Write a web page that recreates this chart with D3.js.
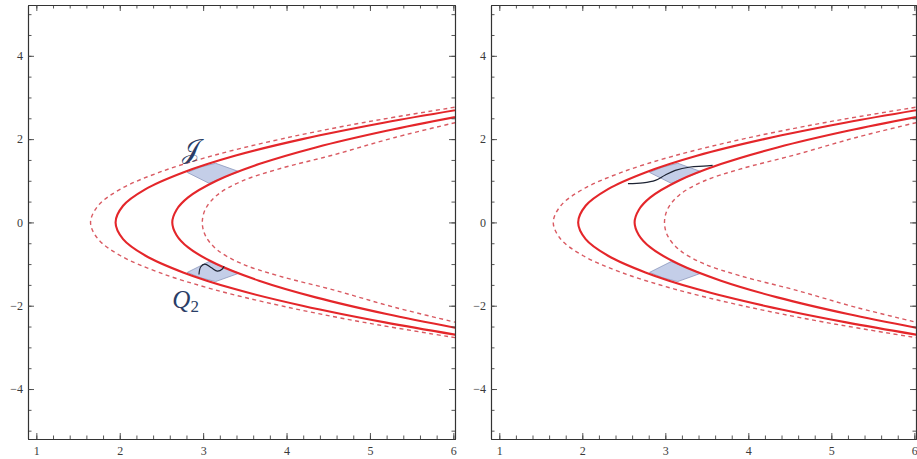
<!DOCTYPE html>
<html>
<head>
<meta charset="utf-8">
<script src="https://cdn.jsdelivr.net/npm/d3@7"></script>
<style>
  body { margin: 0; background: #fff; }
  svg { display: block; }
</style>
</head>
<body>
<script>
// values, (x, y) pairs in plot units
let xMajor = [1, 2, 3, 4, 5, 6]
let yMajor = [-4, -2, 0, 2, 4]
let xMinor = d3.range(1, 6.01, 0.2)
let yMinor = d3.range(-5, 5.01, 0.5)

let outerSolid = [[6.34, 2.8], [5.18, 2.4], [4.19, 2.0], [3.38, 1.6], [2.76, 1.2], [2.31, 0.8], [2.04, 0.4], [1.95, 0],
                  [2.04, -0.4], [2.31, -0.8], [2.76, -1.2], [3.38, -1.6], [4.19, -2.0], [5.18, -2.4], [6.34, -2.8]]
let innerSolid = [[6.21, 2.6], [5.20, 2.2], [4.35, 1.8], [3.67, 1.4], [3.16, 1.0], [2.82, 0.6], [2.68, 0.3], [2.63, 0],
                  [2.68, -0.3], [2.82, -0.6], [3.16, -1.0], [3.67, -1.4], [4.35, -1.8], [5.20, -2.2], [6.21, -2.6]]
let outerDashed = [[6.28, 2.85], [4.93, 2.4], [3.93, 2.0], [3.11, 1.6], [2.47, 1.2], [2.01, 0.8], [1.74, 0.4], [1.65, 0],
                   [1.74, -0.4], [2.01, -0.8], [2.47, -1.2], [3.11, -1.6], [3.93, -2.0], [4.93, -2.4], [6.28, -2.85]]
let innerDashed = [[6.2, 2.48], [5.3, 2.04], [4.56, 1.62], [3.9, 1.28], [3.45, 0.98], [3.17, 0.66], [3.03, 0.33], [2.99, 0],
                   [3.03, -0.33], [3.17, -0.66], [3.45, -0.98], [3.9, -1.28], [4.56, -1.62], [5.3, -2.04], [6.2, -2.48]]

// the shaded patches between the two solid curves
let upperPatch = [[2.81, 1.20], [2.97, 1.33], [3.15, 1.42], [3.43, 1.22], [3.25, 1.08], [3.07, 0.94]]
let lowerPatch = [[2.81, -1.20], [3.07, -0.94], [3.25, -1.08], [3.43, -1.22], [3.15, -1.42], [2.97, -1.33]]

// black squiggles
let leftWiggle = [[2.95, -1.25], [2.97, -1.07], [3.02, -1.0], [3.10, -1.09], [3.17, -1.17], [3.23, -1.12], [3.25, -1.05]]
let rightWiggle = [[2.55, 0.93], [2.73, 0.95], [2.88, 1.01], [3.00, 1.14], [3.12, 1.25], [3.30, 1.33], [3.46, 1.35], [3.57, 1.37]]

// label anchors
let jLabel = [2.86, 1.76]
let qLabel = [2.79, -1.86]

let width = 917
let height = 459
let xDomain = [0.9, 6.02]
let yDomain = [-5.2, 5.22]
let plotTop = 5
let plotBottom = 439

let svg = d3.select("body").append("svg")
    .attr("width", width)
    .attr("height", height)

function drawPanel(id, left, right, extras){
    let x = d3.scaleLinear().domain(xDomain).range([left, right])
    let y = d3.scaleLinear().domain(yDomain).range([plotBottom, plotTop])
    let g = svg.append("g")

    g.append("clipPath").attr("id", "clip" + id)
        .append("rect")
        .attr("x", left).attr("y", plotTop)
        .attr("width", right - left).attr("height", plotBottom - plotTop)

    let line = d3.line()
        .x(d => x(d[0]))
        .y(d => y(d[1]))
        .curve(d3.curveCatmullRom)

    let plot = g.append("g").attr("clip-path", `url(#clip${id})`)

    // patches first so the red curves sit on top
    plot.selectAll("path.patch")
        .data([upperPatch, lowerPatch])
        .enter()
        .append("path")
        .attr("class", "patch")
        .attr("d", d3.line().x(d => x(d[0])).y(d => y(d[1])).curve(d3.curveLinearClosed))
        .attr("fill", "#c4cee8")
        .attr("stroke", "#8c98bd")
        .attr("stroke-width", 0.8)
        .attr("stroke-linejoin", "round")

    plot.selectAll("path.dashed")
        .data([outerDashed, innerDashed])
        .enter()
        .append("path")
        .attr("class", "dashed")
        .attr("d", line)
        .attr("fill", "none")
        .attr("stroke", "#d95a62")
        .attr("stroke-width", 1.4)
        .style("stroke-dasharray", ("4, 3.5"))

    plot.selectAll("path.solid")
        .data([outerSolid, innerSolid])
        .enter()
        .append("path")
        .attr("class", "solid")
        .attr("d", line)
        .attr("fill", "none")
        .attr("stroke", "#e4262a")
        .attr("stroke-width", 2.1)

    extras(plot, x, y, line)

    // frame with inward ticks on all four sides
    let frame = g.append("g").attr("class", "frame")
    frame.append("g").attr("transform", `translate(0,${plotBottom})`)
        .call(d3.axisBottom(x).tickValues(xMinor).tickSize(-3.5).tickSizeOuter(0).tickFormat(""))
    frame.append("g").attr("transform", `translate(0,${plotBottom})`)
        .call(d3.axisBottom(x).tickValues(xMajor).tickSize(-6).tickSizeOuter(0).tickPadding(7).tickFormat(d3.format("d")))
    frame.append("g").attr("transform", `translate(0,${plotTop})`)
        .call(d3.axisTop(x).tickValues(xMinor).tickSize(-3.5).tickSizeOuter(0).tickFormat(""))
    frame.append("g").attr("transform", `translate(0,${plotTop})`)
        .call(d3.axisTop(x).tickValues(xMajor).tickSize(-6).tickSizeOuter(0).tickFormat(""))
    frame.append("g").attr("transform", `translate(${left},0)`)
        .call(d3.axisLeft(y).tickValues(yMinor).tickSize(-3.5).tickSizeOuter(0).tickFormat(""))
    frame.append("g").attr("transform", `translate(${left},0)`)
        .call(d3.axisLeft(y).tickValues(yMajor).tickSize(-6).tickSizeOuter(0).tickPadding(5).tickFormat(d3.format("d")))
    frame.append("g").attr("transform", `translate(${right},0)`)
        .call(d3.axisRight(y).tickValues(yMinor).tickSize(-3.5).tickSizeOuter(0).tickFormat(""))
    frame.append("g").attr("transform", `translate(${right},0)`)
        .call(d3.axisRight(y).tickValues(yMajor).tickSize(-6).tickSizeOuter(0).tickFormat(""))

    frame.selectAll("path.domain").attr("stroke", "#333").attr("stroke-width", 1.1)
    frame.selectAll(".tick line").attr("stroke", "#444").attr("stroke-width", 0.9)
    frame.selectAll(".tick text")
        .attr("fill", "#3a3a3a")
        .style("font-family", "'Liberation Serif', 'DejaVu Serif', serif")
        .style("font-size", "12px")
}

// left panel: labels and the small tilde inside the lower patch
drawPanel("L", 28, 455, (plot, x, y, line) => {
    plot.append("path")
        .attr("d", line(leftWiggle))
        .attr("fill", "none")
        .attr("stroke", "#1d2333")
        .attr("stroke-width", 1.2)

    svg.append("text")
        .attr("x", x(jLabel[0]))
        .attr("y", y(jLabel[1]))
        .attr("text-anchor", "middle")
        .attr("dominant-baseline", "central")
        .style("font-family", "'DejaVu Serif', 'Liberation Serif', serif")
        .style("font-size", "26px")
        .attr("fill", "#2a3d66")
        .text("𝒥")

    let q = svg.append("text")
        .attr("x", x(qLabel[0]))
        .attr("y", y(qLabel[1]) + 8)
        .attr("text-anchor", "middle")
        .style("font-family", "'Liberation Serif', 'DejaVu Serif', serif")
        .attr("fill", "#2a3d66")
    q.append("tspan").style("font-size", "25px").style("font-style", "italic").text("Q")
    q.append("tspan").style("font-size", "17px").attr("dy", 4).text("2")
})

// right panel: the long squiggle crossing the upper patch
drawPanel("R", 491, 916, (plot, x, y, line) => {
    plot.append("path")
        .attr("d", line(rightWiggle))
        .attr("fill", "none")
        .attr("stroke", "#1d2333")
        .attr("stroke-width", 1.2)
})
</script>
</body>
</html>
